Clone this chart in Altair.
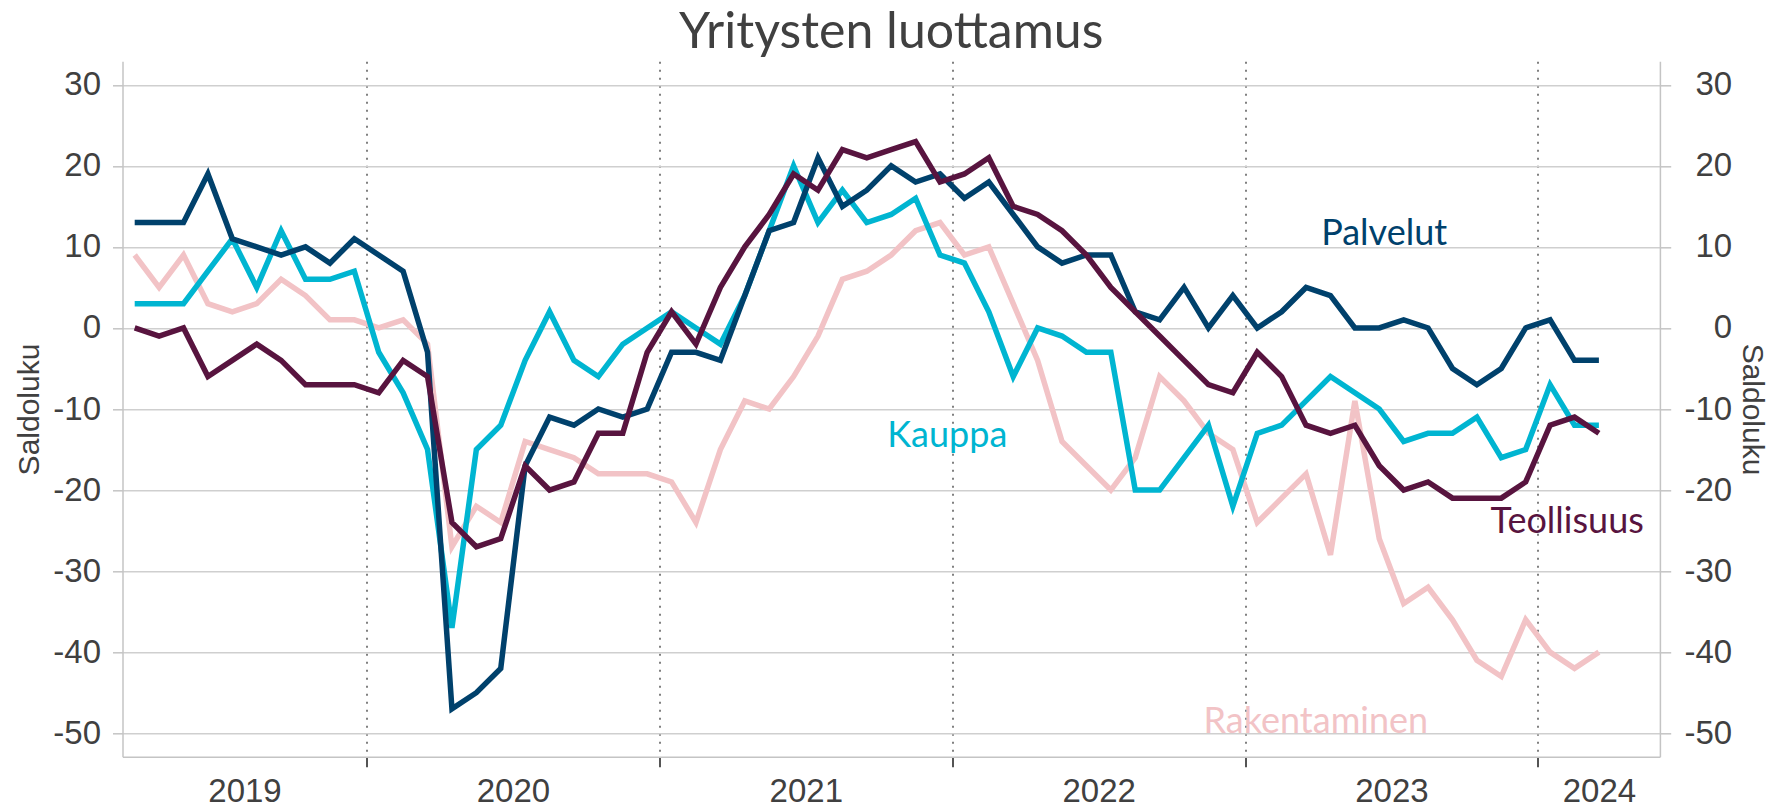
import altair as alt
import pandas as pd

# Monthly balance figures, March 2019 - March 2024
MONTHS = [str(p) for p in pd.period_range("2019-03", "2024-03", freq="M")]

PALVELUT = [13, 13, 13, 19, 11, 10, 9, 10, 8, 11,
            9, 7, -3, -47, -45, -42, -17, -11, -12, -10, -11, -10,
            -3, -3, -4, 4, 12, 13, 21, 15, 17, 20, 18, 19,
            16, 18, 14, 10, 8, 9, 9, 2, 1, 5, 0, 4,
            0, 2, 5, 4, 0, 0, 1, 0, -5, -7, -5, 0,
            1, -4, -4]
KAUPPA = [3, 3, 3, 7, 11, 5, 12, 6, 6, 7,
          -3, -8, -15, -37, -15, -12, -4, 2, -4, -6, -2, 0,
          2, 0, -2, 4, 12, 20, 13, 17, 13, 14, 16, 9,
          8, 2, -6, 0, -1, -3, -3, -20, -20, -16, -12, -22,
          -13, -12, -9, -6, -8, -10, -14, -13, -13, -11, -16, -15,
          -7, -12, -12]
TEOLLISUUS = [0, -1, 0, -6, -4, -2, -4, -7, -7, -7,
              -8, -4, -6, -24, -27, -26, -17, -20, -19, -13, -13, -3,
              2, -2, 5, 10, 14, 19, 17, 22, 21, 22, 23, 18,
              19, 21, 15, 14, 12, 9, 5, 2, -1, -4, -7, -8,
              -3, -6, -12, -13, -12, -17, -20, -19, -21, -21, -21, -19,
              -12, -11, -13]
RAKENTAMINEN = [9, 5, 9, 3, 2, 3, 6, 4, 1, 1,
                0, 1, -2, -27, -22, -24, -14, -15, -16, -18, -18, -18,
                -19, -24, -15, -9, -10, -6, -1, 6, 7, 9, 12, 13,
                9, 10, 3, -4, -14, -17, -20, -16, -6, -9, -13, -15,
                -24, -21, -18, -28, -9, -26, -34, -32, -36, -41, -43, -36,
                -40, -42, -40]

SERIES = ["Rakentaminen", "Kauppa", "Palvelut", "Teollisuus"]
COLORS = ["#f2c3c6", "#00b5d1", "#00416c", "#58143f"]
VALUES = [RAKENTAMINEN, KAUPPA, PALVELUT, TEOLLISUUS]

# series name labels, anchored in data units (month index, balance)
LABEL_NAMES = ["Rakentaminen", "Kauppa", "Palvelut", "Teollisuus"]
LABEL_MONTH = [48.4, 33.3, 51.2, 58.7]
LABEL_VALUE = [-50.0, -14.7, 10.2, -25.3]

Y_TICKS = [-50, -40, -30, -20, -10, 0, 10, 20, 30]
YEARS = ["2019", "2020", "2021", "2022", "2023", "2024"]

# ---- derived tables
rows = []
for name, vals in zip(SERIES, VALUES):
    for i, v in enumerate(vals):
        rows.append({"i": i, "kk": MONTHS[i], "sarja": name, "arvo": v})
df = pd.DataFrame(rows)
lab = pd.DataFrame({"lx": LABEL_MONTH, "ly": LABEL_VALUE, "nimi": LABEL_NAMES})

x_lo, x_hi = -0.5, len(MONTHS) + 1.5
boundaries = [i - 0.5 for i, m in enumerate(MONTHS) if m.endswith("-01")]
edges = [x_lo] + boundaries + [x_hi]
centers = [(a + b) / 2 for a, b in zip(edges[:-1], edges[1:])]
label_expr = "{" + ",".join(f"'{c:g}':'{y}'" for c, y in zip(centers, YEARS)) + "}[''+datum.value]"

xscale = alt.Scale(domain=[x_lo, x_hi], nice=False, zero=False)
yscale = alt.Scale(domain=[-52.9, 32.9], nice=False, zero=False)

TXT = "#404040"
GRID = "#cfcfcf"
AXF = "Liberation Sans"

x_ticks_axis = alt.Axis(orient="bottom", values=boundaries, labels=False, ticks=True,
                        tickSize=10, tickColor="#555555", tickWidth=2,
                        grid=True, gridDash=[2, 6], gridColor="#808080", gridWidth=2,
                        domain=True, domainColor="#c4c4c4", domainWidth=1.5, title=None)
x_label_axis = alt.Axis(orient="bottom", values=centers, labelExpr=label_expr,
                        ticks=False, tickSize=0, domain=False, grid=False,
                        labelFont=AXF, labelFontSize=33, labelColor=TXT,
                        labelPadding=45, labelBaseline="alphabetic", labelAlign="center",
                        labelFlush=False, labelOverlap=False, title=None)
y_left = alt.Axis(orient="left", values=Y_TICKS, labelExpr="toString(datum.value)",
                  tickSize=10, tickColor="#c4c4c4", tickWidth=1.5,
                  labelPadding=12, labelFont=AXF, labelFontSize=33, labelColor=TXT,
                  labelBaseline="middle", domainColor="#c4c4c4", domainWidth=1.5,
                  grid=True, gridColor=GRID, gridWidth=1.5,
                  title="Saldoluku", titleFont=AXF, titleFontSize=30, titleFontWeight="normal",
                  titleColor=TXT, titleAngle=270, titleX=-84, titleY=347.7,
                  titleBaseline="alphabetic", titleAlign="center")
y_right = alt.Axis(orient="right", values=Y_TICKS, labelExpr="toString(datum.value)",
                   tickSize=10.8, tickColor="#c4c4c4", tickWidth=1.5,
                   labelPadding=61, labelAlign="right", labelFont=AXF, labelFontSize=33,
                   labelColor=TXT, labelBaseline="middle", domainColor="#c4c4c4", domainWidth=1.5,
                   grid=False,
                   title="Saldoluku", titleFont=AXF, titleFontSize=30, titleFontWeight="normal",
                   titleColor=TXT, titleAngle=90, titleX=83, titleY=347.7,
                   titleBaseline="alphabetic", titleAlign="center")

layers = []
for k, (name, col) in enumerate(zip(SERIES, COLORS)):
    layers.append(
        alt.Chart(df).transform_filter(alt.datum.sarja == name)
        .mark_line(color=col, strokeWidth=5.5, strokeJoin="miter", strokeCap="butt")
        .encode(
            x=alt.X("i:Q", scale=xscale, axis=x_ticks_axis if k == 0 else None),
            y=alt.Y("arvo:Q", scale=yscale, axis=y_left if k == 0 else None),
        )
    )

texts = alt.Chart(lab).mark_text(font="Lato", fontSize=36, align="center",
                                 baseline="alphabetic").encode(
    x=alt.X("lx:Q", scale=xscale, axis=x_label_axis),
    y=alt.Y("ly:Q", scale=yscale, axis=y_right),
    text="nimi:N",
    color=alt.Color("nimi:N", scale=alt.Scale(domain=SERIES, range=COLORS), legend=None),
)

chart = alt.layer(*layers, texts).resolve_axis(x="independent", y="independent").properties(
    width=1537.4, height=695.4,
    autosize=alt.AutoSizeParams(type="none"),
    padding={"left": 114.5, "top": 53.3, "right": 110.1, "bottom": 52.3},
    title=alt.TitleParams("Yritysten luottamus", font="Lato", fontSize=50, fontWeight="normal",
                          color=TXT, anchor="middle", baseline="alphabetic", offset=-37,
                          frame="group"),
    background="white",
).configure_view(stroke=None)

chart.save("out.html", embed_options={"renderer": "svg", "actions": False})
